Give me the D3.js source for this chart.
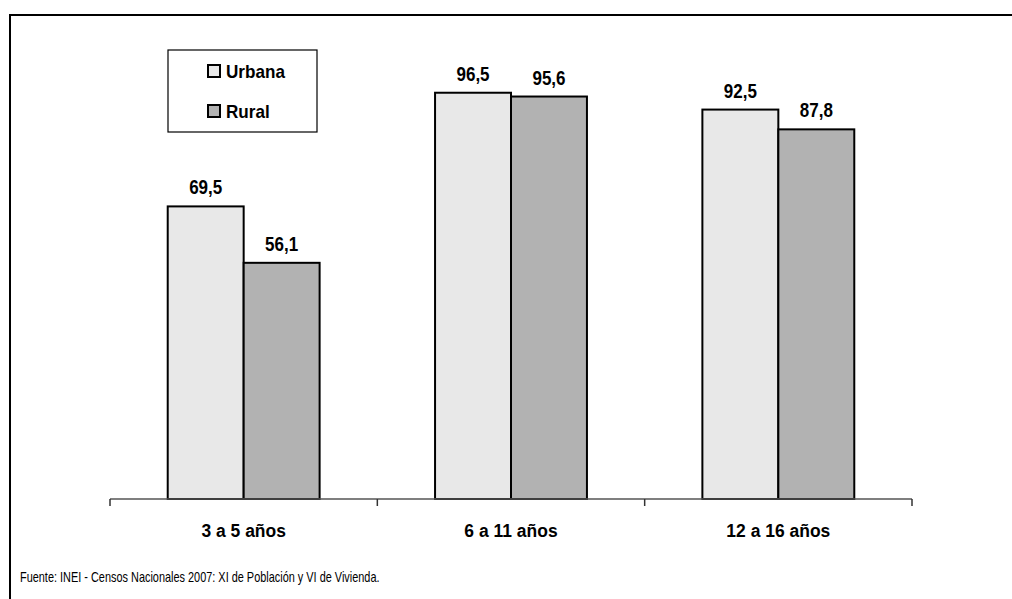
<!DOCTYPE html>
<html><head><meta charset="utf-8">
<script src="https://cdn.jsdelivr.net/npm/d3@7"></script>
<style>
body{margin:0;background:#fff;}
text{font-family:"Liberation Sans",Arial,sans-serif;}
</style></head>
<body><svg id="c" width="1012" height="599"></svg>
<script>
const categories = ["3 a 5 años", "6 a 11 años", "12 a 16 años"];
const seriesNames = ["Urbana", "Rural"];
const urbana = [69.5, 96.5, 92.5];
const rural = [56.1, 95.6, 87.8];
const colors = ["#e8e8e8", "#b2b2b2"];
const source = "Fuente: INEI - Censos Nacionales 2007: XI de Población y VI de Vivienda.";

const svg = d3.select("#c");
function label(parent, x, y, txt, size, sx, anchor, weight){
  const g = parent.append("g").attr("transform",`translate(${x},${y}) scale(${sx},1)`);
  g.append("text").attr("text-anchor",anchor).attr("font-size",size).attr("font-weight",weight).attr("fill","#000").text(txt);
  return g;
}
// frame
svg.append("path").attr("d","M10,599 V15 H1012").attr("fill","none").attr("stroke","#000").attr("stroke-width",2);

const x0 = d3.scaleBand().domain(categories).range([110, 912]).paddingInner(0).paddingOuter(0);
const x1 = d3.scaleBand().domain(seriesNames).range([0, x0.bandwidth()]).paddingInner(0).paddingOuter(0.76);
const y = d3.scaleLinear().domain([0, 100]).range([499, 78]);

const data = categories.map((c,i)=>({cat:c, vals:[urbana[i], rural[i]]}));

const g = svg.append("g");
data.forEach(d=>{
  d.vals.forEach((v,j)=>{
    const bx = x0(d.cat) + x1(seriesNames[j]);
    g.append("rect").attr("x",bx).attr("y",y(v)).attr("width",x1.bandwidth()).attr("height",y(0)-y(v))
      .attr("fill",colors[j]).attr("stroke","#000").attr("stroke-width",2);
    label(g, bx + x1.bandwidth()/2, y(v)-12, d3.format(".1f")(v).replace(".",","), 20, 0.85, "middle", "bold");
  });
});

// axis
const ax = svg.append("g").attr("transform","translate(0,499)");
ax.append("line").attr("x1",110).attr("x2",912).attr("stroke","#555").attr("stroke-width",1.5);
const ticks = categories.map(c=>x0(c)).concat([x0.range()[1]]);
ax.selectAll(".tk").data(ticks).enter().append("line").attr("x1",d=>d).attr("x2",d=>d).attr("y1",0).attr("y2",7)
  .attr("stroke","#333").attr("stroke-width",1.5);
categories.forEach(c=>label(ax, x0(c)+x0.bandwidth()/2, 38, c, 19, 0.92, "middle", "bold"));

// legend
const lg = svg.append("g");
lg.append("rect").attr("x",168).attr("y",50).attr("width",149).attr("height",82).attr("fill","#fff").attr("stroke","#000").attr("stroke-width",1.2);
seriesNames.forEach((s,i)=>{
  const yy = 71 + i*40;
  lg.append("rect").attr("x",208).attr("y",yy-6).attr("width",12).attr("height",12).attr("fill",colors[i]).attr("stroke","#000").attr("stroke-width",2);
  label(lg, 226, yy+7, s, 18, 0.95, "start", "bold");
});

label(svg, 20, 582, source, 14, 0.78, "start", "normal");
</script></body></html>
